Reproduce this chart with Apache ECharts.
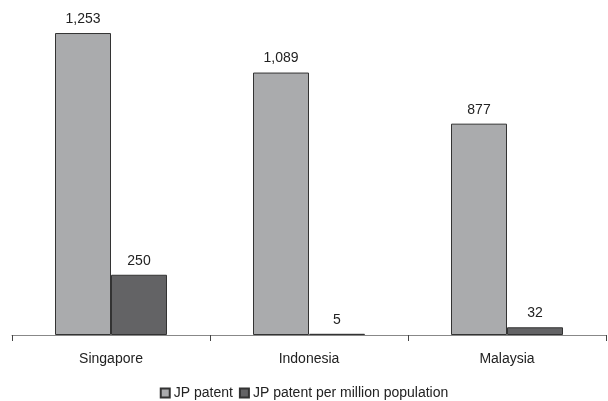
<!DOCTYPE html>
<html>
<head>
<meta charset="utf-8">
<script src="https://cdn.jsdelivr.net/npm/echarts@6/dist/echarts.min.js"></script>
<style>html,body{margin:0;padding:0;background:#fff}#chart{width:608px;height:401px}</style>
</head>
<body>
<div id="chart"></div>
<script>
const countries = ['Singapore', 'Indonesia', 'Malaysia'];
const jpPatent = [1253, 1089, 877];
const jpPatentPerMillion = [250, 5, 32];
const seriesNames = ['JP patent', 'JP patent per million population'];

const chart = echarts.init(document.getElementById('chart'));
const font = 'Liberation Sans, Arial, sans-serif';
const fmt = p => p.value.toLocaleString('en-US');

chart.setOption({
  animation: false,
  grid: { left: 12, right: 2, top: 21.7, bottom: 66 },
  legend: {
    top: 381, left: 'center', padding: 5,
    itemWidth: 9, itemHeight: 9, itemGap: 6,
    icon: 'rect',
    textStyle: { fontFamily: font, fontSize: 14, color: '#222', padding: [0, 0, 0, -1] },
    data: seriesNames
  },
  xAxis: {
    type: 'category',
    data: countries,
    axisLine: { lineStyle: { color: '#888', width: 1 } },
    axisTick: { show: true, length: 6, lineStyle: { color: '#444' } },
    axisLabel: { fontFamily: font, fontSize: 14, color: '#222', margin: 17 }
  },
  yAxis: { type: 'value', min: 0, max: 1300, show: false, splitLine: { show: false } },
  series: [
    {
      name: seriesNames[0], type: 'bar', data: jpPatent,
      barWidth: 56, barGap: '0%',
      itemStyle: { color: '#aaabad', borderColor: '#333', borderWidth: 1 },
      label: { show: true, position: 'top', distance: 7, formatter: fmt, fontFamily: font, fontSize: 14, color: '#222' }
    },
    {
      name: seriesNames[1], type: 'bar', data: jpPatentPerMillion,
      barWidth: 56, barGap: '0%',
      itemStyle: { color: '#636365', borderColor: '#333', borderWidth: 1 },
      label: { show: true, position: 'top', distance: 7, formatter: fmt, fontFamily: font, fontSize: 14, color: '#222' }
    }
  ]
});
</script>
</body>
</html>
